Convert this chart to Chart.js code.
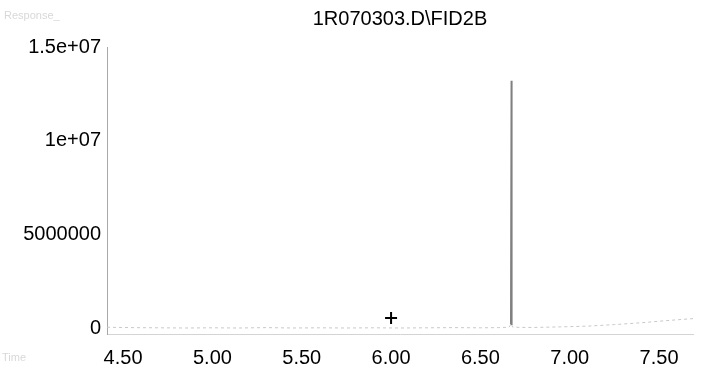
<!DOCTYPE html>
<html>
<head>
<meta charset="utf-8">
<script src="https://cdn.jsdelivr.net/npm/chart.js@4/dist/chart.umd.min.js"></script>
<style>
  html, body { margin: 0; padding: 0; background: #fff; }
  #wrap { width: 703px; height: 379px; }
</style>
</head>
<body>
<div id="wrap"><canvas id="myChart"></canvas></div>
<script>
// retention time (min) and detector signal
const times  = [4.41, 4.55, 4.70, 4.85, 5.00, 5.15, 5.30, 5.45, 5.60, 5.75, 5.90, 6.05, 6.20, 6.35, 6.50, 6.60, 6.66, 6.670, 6.673, 6.676, 6.68, 6.72, 6.80, 6.95, 7.10, 7.25, 7.40, 7.55, 7.69];
const signal = [60000, 40000, 30000, 20000, 30000, 20000, 40000, 20000, 30000, 20000, 30000, 20000, 30000, 40000, 30000, 40000, 60000, 200000, 13200000, 180000, 70000, 50000, 50000, 80000, 120000, 200000, 300000, 420000, 520000];

// the marked point
const markTime = [6.00];
const markValue = [550000];

const xTicks = [4.5, 5.0, 5.5, 6.0, 6.5, 7.0, 7.5];
const yTicks = [0, 5000000, 10000000, 15000000];
const yTickLabels = ['0', '5000000', '1e+07', '1.5e+07'];

const chartTitle = '1R070303.D\\FID2B';

const fontFamily = "'Liberation Sans', Arial, sans-serif";

// title centred over the plot area, plus the faded axis captions
const extraText = {
    id: 'extraText',
    afterDraw(chart) {
        const ctx = chart.ctx;
        const a = chart.chartArea;
        ctx.save();
        ctx.fillStyle = '#000';
        ctx.font = '20px ' + fontFamily;
        ctx.textAlign = 'center';
        ctx.textBaseline = 'middle';
        ctx.fillText(chartTitle, (a.left + a.right) / 2, 19);
        ctx.textAlign = 'left';
        ctx.fillStyle = '#d8d8d8';
        ctx.font = '11px ' + fontFamily;
        ctx.fillText('Response_', 4, 16);
        ctx.fillText('Time', 2, 358);
        ctx.restore();
    }
};

const big = 1000000;

new Chart(document.getElementById('myChart'), {
    type: 'line',
    data: {
        datasets: [
            {
                data: times.map((t, i) => ({ x: t, y: signal[i] })),
                borderColor: '#8a8a8a',
                borderWidth: 1.5,
                pointRadius: 0,
                tension: 0,
                segment: {
                    borderColor: c => (c.p0.parsed.y > big || c.p1.parsed.y > big) ? '#808080' : '#c8c8c8',
                    borderDash: c => (c.p0.parsed.y > big || c.p1.parsed.y > big) ? [] : [3, 3],
                    borderWidth: c => (c.p0.parsed.y > big || c.p1.parsed.y > big) ? 1.5 : 1
                }
            },
            {
                type: 'scatter',
                data: markTime.map((t, i) => ({ x: t, y: markValue[i] })),
                pointStyle: 'cross',
                pointRadius: 6,
                borderColor: '#000',
                borderWidth: 2
            }
        ]
    },
    options: {
        responsive: true,
        maintainAspectRatio: false,
        animation: false,
        layout: { padding: { left: 0, right: 10, top: 47, bottom: 0 } },
        plugins: {
            legend: { display: false },
            tooltip: { enabled: false },
            title: { display: false }
        },
        scales: {
            x: {
                type: 'linear',
                min: 4.41,
                max: 7.69,
                afterBuildTicks: s => { s.ticks = xTicks.map(v => ({ value: v })); },
                afterFit: s => { s.height = 45; },
                grid: { display: false, drawTicks: false },
                border: { display: true, color: '#d4d4d4', dash: [1, 3] },
                ticks: {
                    color: '#000',
                    padding: 12,
                    font: { family: fontFamily, size: 20 },
                    callback: v => Number(v).toFixed(2)
                }
            },
            y: {
                min: -300000,
                max: 15000000,
                afterBuildTicks: s => { s.ticks = yTicks.map(v => ({ value: v })); },
                afterFit: s => { s.width = 107; },
                grid: { display: false, drawTicks: false },
                border: { display: true, color: '#a8a8a8', dash: [1, 3] },
                ticks: {
                    color: '#000',
                    padding: 6,
                    font: { family: fontFamily, size: 20 },
                    callback: v => yTickLabels[yTicks.indexOf(v)]
                }
            }
        }
    },
    plugins: [extraText]
});
</script>
</body>
</html>
